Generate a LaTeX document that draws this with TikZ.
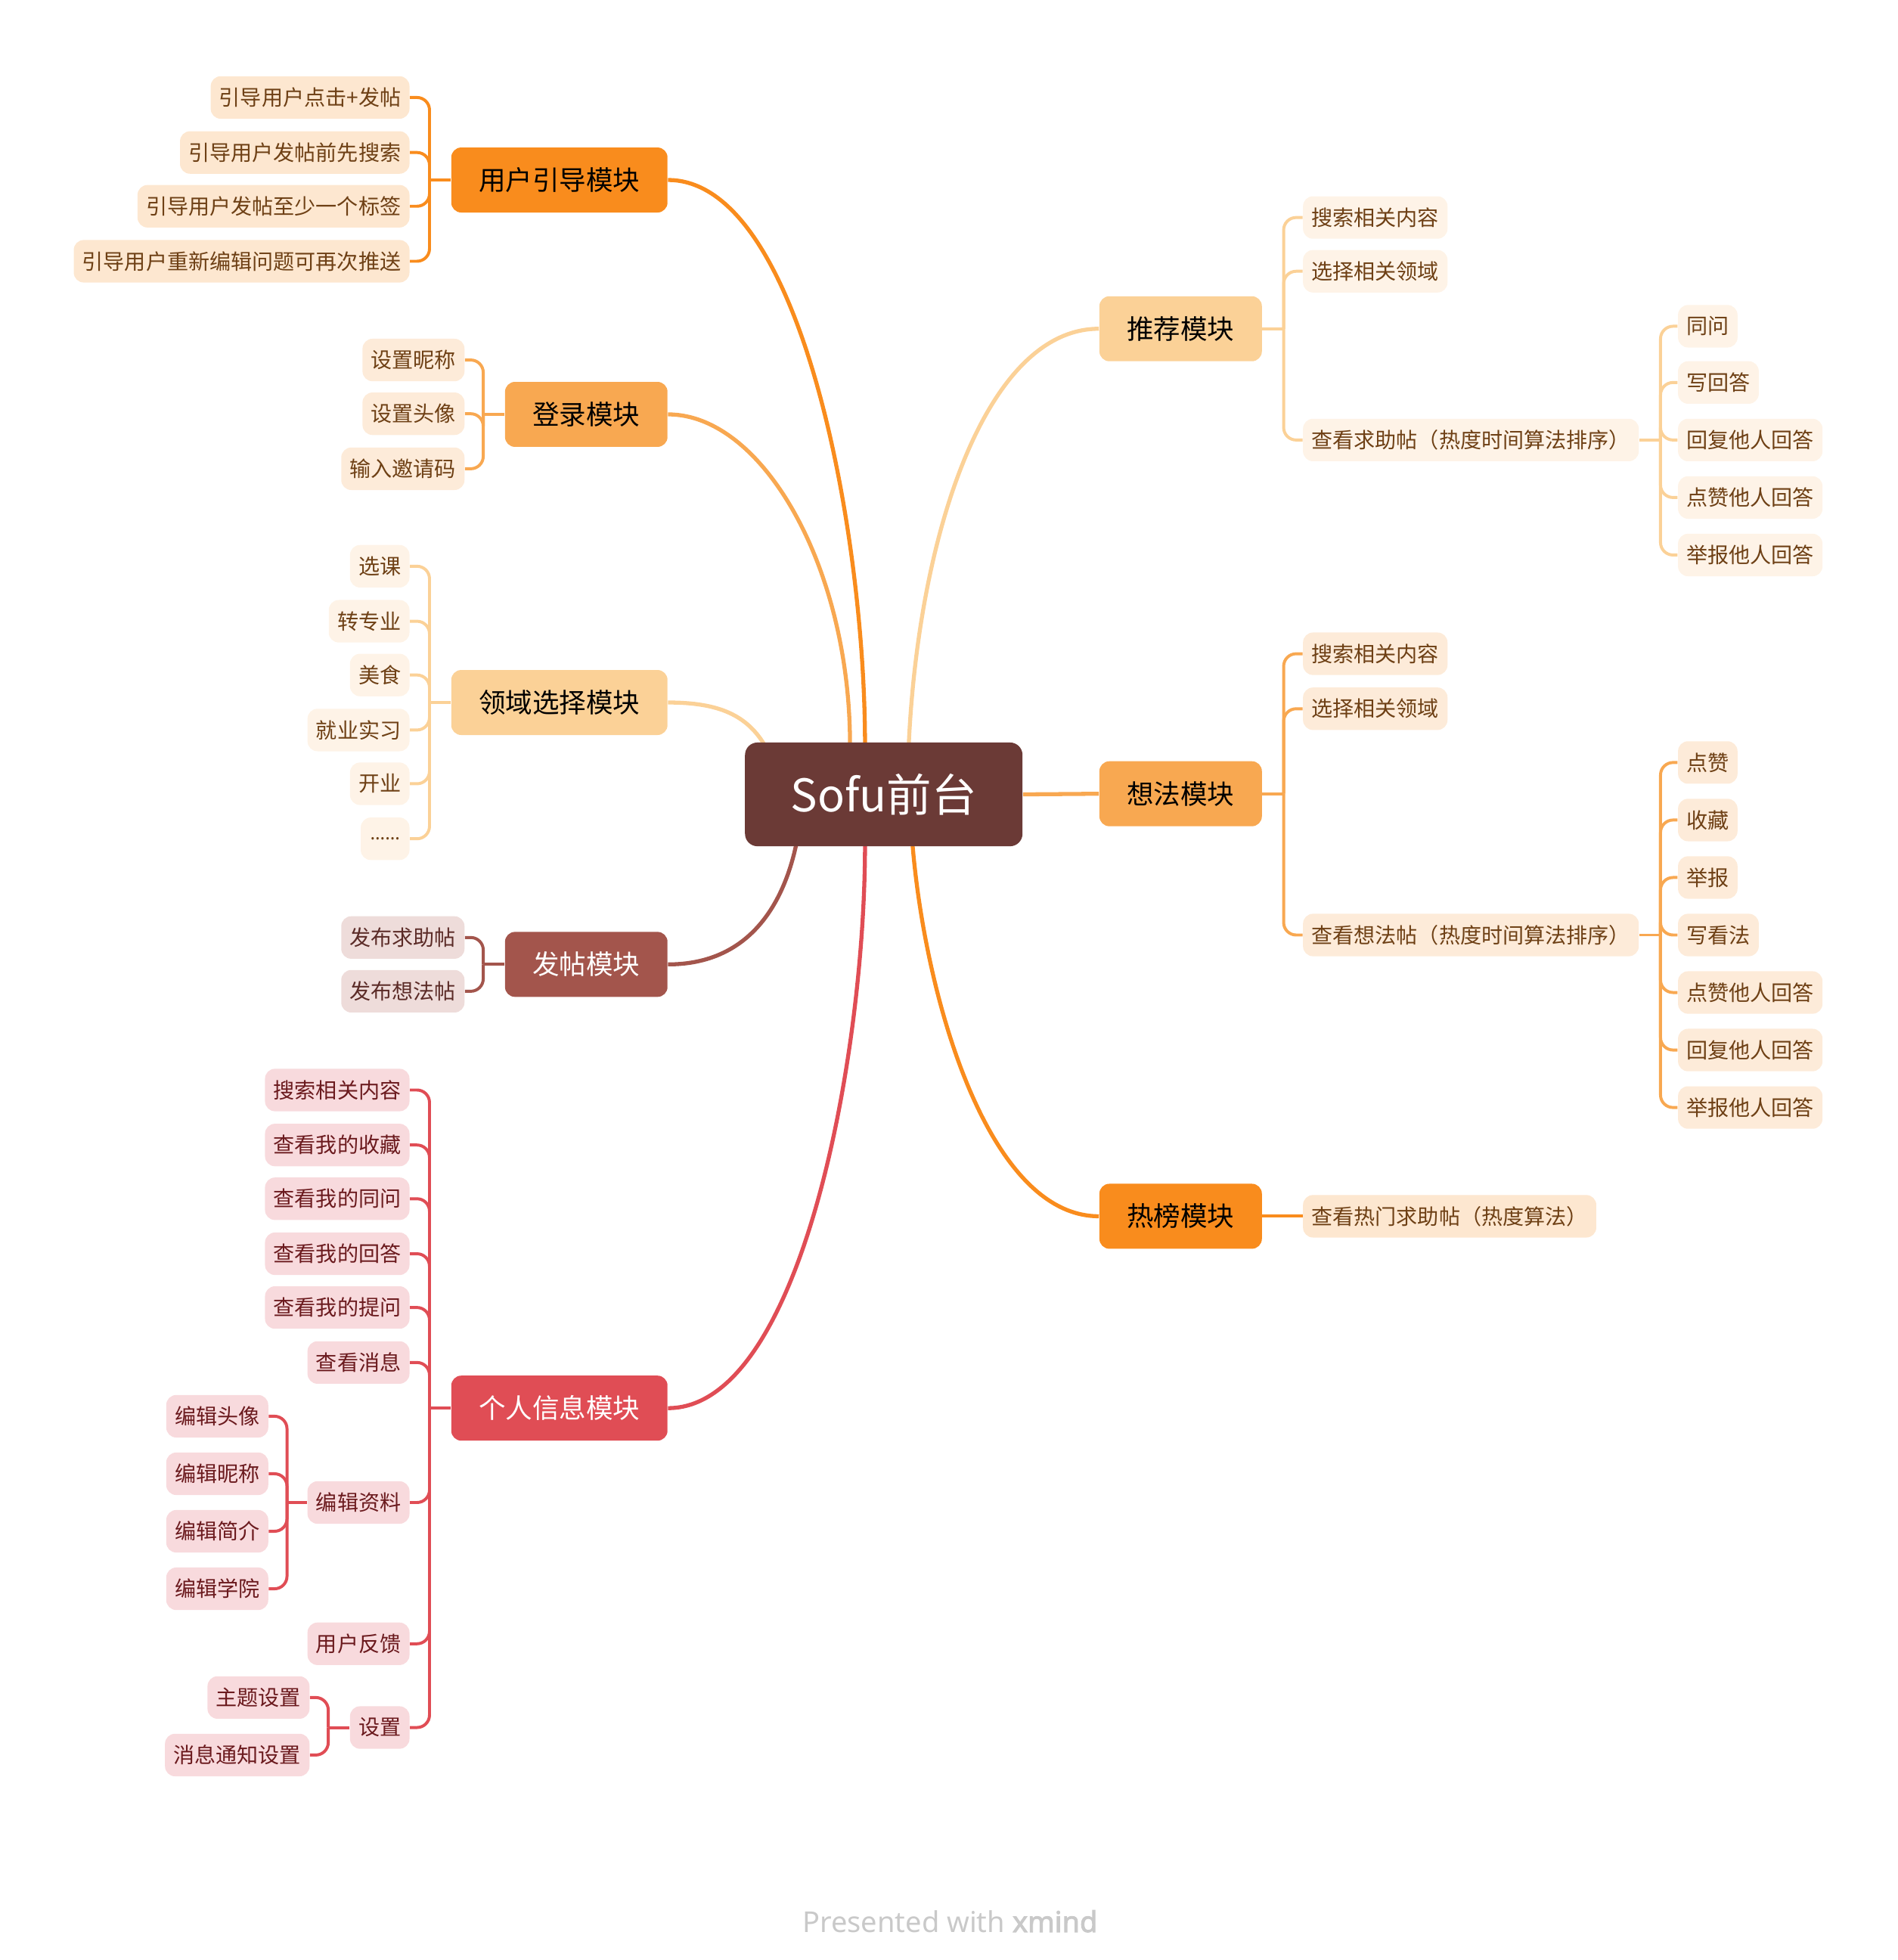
\documentclass[tikz,border=0pt]{standalone}
\usepackage{fontspec}
\setmainfont{Noto Sans CJK SC}
\newfontfamily\wmfont{Noto Sans}
\newfontfamily\wmbold{Noto Sans}[FakeBold=2.5]
\usetikzlibrary{calc,backgrounds}
\definecolor{rootc}{HTML}{6B3A36}
\definecolor{ca}{HTML}{F98C1D}
\definecolor{cb}{HTML}{F8A851}
\definecolor{cc}{HTML}{FBD197}
\definecolor{cd}{HTML}{A3554C}
\definecolor{ce}{HTML}{E04D55}
\definecolor{fa}{HTML}{FDE7D0}
\definecolor{fb}{HTML}{FDEBD9}
\definecolor{fc}{HTML}{FEF3E7}
\definecolor{fd}{HTML}{EEDCDA}
\definecolor{fe}{HTML}{F8DADD}
\definecolor{ta}{HTML}{6E4015}
\definecolor{td}{HTML}{5B2B27}
\definecolor{te}{HTML}{6B1A1E}
\definecolor{wm}{HTML}{C9C9C9}
\tikzset{
  rootnode/.style={fill=rootc, rounded corners=5pt, minimum width=111pt, minimum height=41.5pt, text=white, font=\fontsize{18}{20}\selectfont},
  mtopic/.style={rounded corners=4pt, minimum height=26pt, inner xsep=11pt, inner ysep=0pt, font=\fontsize{10.75}{12}\selectfont},
  subnode/.style={rounded corners=4pt, minimum height=17pt, inner xsep=3.4pt, inner ysep=0pt, font=\fontsize{8.5}{10}\selectfont},
  sa/.style={subnode, fill=fa, text=ta},
  sb/.style={subnode, fill=fb, text=ta},
  sc/.style={subnode, fill=fc, text=ta},
  sd/.style={subnode, fill=fd, text=td},
  se/.style={subnode, fill=fe, text=te},
  branch/.style={line width=1.6pt},
  twig/.style={line width=1.2pt, rounded corners=5pt},
}
\begin{document}
\begin{tikzpicture}[x=0.5pt,y=-0.5pt]
\useasboundingbox (0,0) rectangle (1518,1568);
% root
\node[rootnode] (root) at (707,635.5) {Sofu前台};
% main topics
\node[mtopic, fill=ca, text=black] (m1) at (447.5,144) {用户引导模块};
\node[mtopic, fill=cb, text=black] (m2) at (469,331.5) {登录模块};
\node[mtopic, fill=cc, text=black] (m3) at (447.5,562) {领域选择模块};
\node[mtopic, fill=cd, text=white] (m4) at (469,771.5) {发帖模块};
\node[mtopic, fill=ce, text=white] (m5) at (447.5,1126.5) {个人信息模块};
\node[mtopic, fill=cc, text=black] (m6) at (944.5,263) {推荐模块};
\node[mtopic, fill=cb, text=black] (m7) at (944.5,635) {想法模块};
\node[mtopic, fill=ca, text=black] (m8) at (944.5,973) {热榜模块};
% group 1
\node[sa, anchor=east] (a1) at (328,78) {引导用户点击+发帖};
\node[sa, anchor=east] (a2) at (328,122) {引导用户发帖前先搜索};
\node[sa, anchor=east] (a3) at (328,165) {引导用户发帖至少一个标签};
\node[sa, anchor=east] (a4) at (328,209) {引导用户重新编辑问题可再次推送};
% group 2
\node[sb, anchor=east] (b1) at (372,288) {设置昵称};
\node[sb, anchor=east] (b2) at (372,331) {设置头像};
\node[sb, anchor=east] (b3) at (372,375) {输入邀请码};
% group 3
\node[sc, anchor=east] (c1) at (328,453) {选课};
\node[sc, anchor=east] (c2) at (328,497) {转专业};
\node[sc, anchor=east] (c3) at (328,540) {美食};
\node[sc, anchor=east] (c4) at (328,584) {就业实习};
\node[sc, anchor=east] (c5) at (328,627) {开业};
\node[sc, anchor=east, minimum width=19.5pt, font=\wmfont\fontsize{7.5}{9}\selectfont] (c6) at (328,671) {……};
% group 4
\node[sd, anchor=east] (d1) at (372,750) {发布求助帖};
\node[sd, anchor=east] (d2) at (372,793) {发布想法帖};
% group 5
\node[se, anchor=east] (e1) at (328,872) {搜索相关内容};
\node[se, anchor=east] (e2) at (328,916) {查看我的收藏};
\node[se, anchor=east] (e3) at (328,959) {查看我的同问};
\node[se, anchor=east] (e4) at (328,1003) {查看我的回答};
\node[se, anchor=east] (e5) at (328,1046) {查看我的提问};
\node[se, anchor=east] (e6) at (328,1090) {查看消息};
\node[se, anchor=east] (e7) at (328,1202) {编辑资料};
\node[se, anchor=east] (e8) at (328,1315) {用户反馈};
\node[se, anchor=east] (e9) at (328,1382) {设置};
\node[se, anchor=east] (ea1) at (215,1133) {编辑头像};
\node[se, anchor=east] (ea2) at (215,1179) {编辑昵称};
\node[se, anchor=east] (ea3) at (215,1225) {编辑简介};
\node[se, anchor=east] (ea4) at (215,1271) {编辑学院};
\node[se, anchor=east] (eb1) at (248,1358) {主题设置};
\node[se, anchor=east] (eb2) at (248,1404) {消息通知设置};
% group 6 推荐
\node[sc, anchor=west] (f1) at (1042,174) {搜索相关内容};
\node[sc, anchor=west] (f2) at (1042,217) {选择相关领域};
\node[sc, anchor=west] (f3) at (1042,352) {查看求助帖（热度时间算法排序）};
\node[sc, anchor=west] (fa1) at (1342,261) {同问};
\node[sc, anchor=west] (fa2) at (1342,306) {写回答};
\node[sc, anchor=west] (fa3) at (1342,352) {回复他人回答};
\node[sc, anchor=west] (fa4) at (1342,398) {点赞他人回答};
\node[sc, anchor=west] (fa5) at (1342,444) {举报他人回答};
% group 7 想法
\node[sb, anchor=west] (g1) at (1042,523) {搜索相关内容};
\node[sb, anchor=west] (g2) at (1042,567) {选择相关领域};
\node[sb, anchor=west] (g3) at (1042,748) {查看想法帖（热度时间算法排序）};
\node[sb, anchor=west] (ga1) at (1342,610) {点赞};
\node[sb, anchor=west] (ga2) at (1342,656) {收藏};
\node[sb, anchor=west] (ga3) at (1342,702) {举报};
\node[sb, anchor=west] (ga4) at (1342,748) {写看法};
\node[sb, anchor=west] (ga5) at (1342,794) {点赞他人回答};
\node[sb, anchor=west] (ga6) at (1342,840) {回复他人回答};
\node[sb, anchor=west] (ga7) at (1342,886) {举报他人回答};
% group 8 热榜
\node[sa, anchor=west] (h1) at (1042,973) {查看热门求助帖（热度算法）};
% watermark
\node[text=wm, font=\wmfont\fontsize{11.5}{13}\selectfont] (wmk) at (760,1537) {Presented with {\wmbold xmind}};

\begin{scope}[on background layer]
% branches
\draw[branch, ca] (m1.east) .. controls (640,144) and ($(root.north)+(-15,-170)$) .. ($(root.north)+(-15,2)$);
\draw[branch, cb] (m2.east) .. controls (610,331.5) and ($(root.north)+(-27,-140)$) .. ($(root.north)+(-27,2)$);
\draw[branch, cc] (m3.east) .. controls (575,562) and (598,572) .. ($(root.north west)+(17,4)$);
\draw[branch, cd] (m4.east) .. controls (600,771.5) and ($(root.south)+(-80,45)$) .. ($(root.south)+(-70,-2)$);
\draw[branch, ce] (m5.east) .. controls (640,1126.5) and ($(root.south)+(-15,170)$) .. ($(root.south)+(-15,-2)$);
\draw[branch, cc] (m6.west) .. controls (790,263) and ($(root.north)+(28,-170)$) .. ($(root.north)+(20,2)$);
\draw[branch, cb] (root.east) -- (m7.west);
\draw[branch, ca] (m8.west) .. controls (790,973) and ($(root.south)+(33,120)$) .. ($(root.south)+(23,-2)$);
% group 1
\draw[twig, ca] (m1.west) -- ++(-17,0) coordinate (j1);
\foreach \n in {a1,a2,a3,a4} \draw[twig, ca] (j1) |- (\n.east);
% group 2
\draw[twig, cb] (m2.west) -- ++(-17,0) coordinate (j2);
\foreach \n in {b1,b2,b3} \draw[twig, cb] (j2) |- (\n.east);
% group 3
\draw[twig, cc] (m3.west) -- ++(-17,0) coordinate (j3);
\foreach \n in {c1,c2,c3,c4,c5,c6} \draw[twig, cc] (j3) |- (\n.east);
% group 4
\draw[twig, cd] (m4.west) -- ++(-17,0) coordinate (j4);
\foreach \n in {d1,d2} \draw[twig, cd] (j4) |- (\n.east);
% group 5
\draw[twig, ce] (m5.west) -- ++(-17,0) coordinate (j5);
\foreach \n in {e1,e2,e3,e4,e5,e6,e7,e8,e9} \draw[twig, ce] (j5) |- (\n.east);
\draw[twig, ce] (e7.west) -- ++(-16,0) coordinate (j5a);
\foreach \n in {ea1,ea2,ea3,ea4} \draw[twig, ce] (j5a) |- (\n.east);
\draw[twig, ce] (e9.west) -- ++(-17,0) coordinate (j5b);
\foreach \n in {eb1,eb2} \draw[twig, ce] (j5b) |- (\n.east);
% group 6
\draw[twig, cc] (m6.east) -- ++(17,0) coordinate (j6);
\foreach \n in {f1,f2,f3} \draw[twig, cc] (j6) |- (\n.west);
\draw[twig, cc] (f3.east) -- ++(17,0) coordinate (j6a);
\foreach \n in {fa1,fa2,fa3,fa4,fa5} \draw[twig, cc] (j6a) |- (\n.west);
% group 7
\draw[twig, cb] (m7.east) -- ++(17,0) coordinate (j7);
\foreach \n in {g1,g2,g3} \draw[twig, cb] (j7) |- (\n.west);
\draw[twig, cb] (g3.east) -- ++(17,0) coordinate (j7a);
\foreach \n in {ga1,ga2,ga3,ga4,ga5,ga6,ga7} \draw[twig, cb] (j7a) |- (\n.west);
% group 8
\draw[twig, ca] (m8.east) -- (h1.west);
\end{scope}
\end{tikzpicture}
\end{document}
